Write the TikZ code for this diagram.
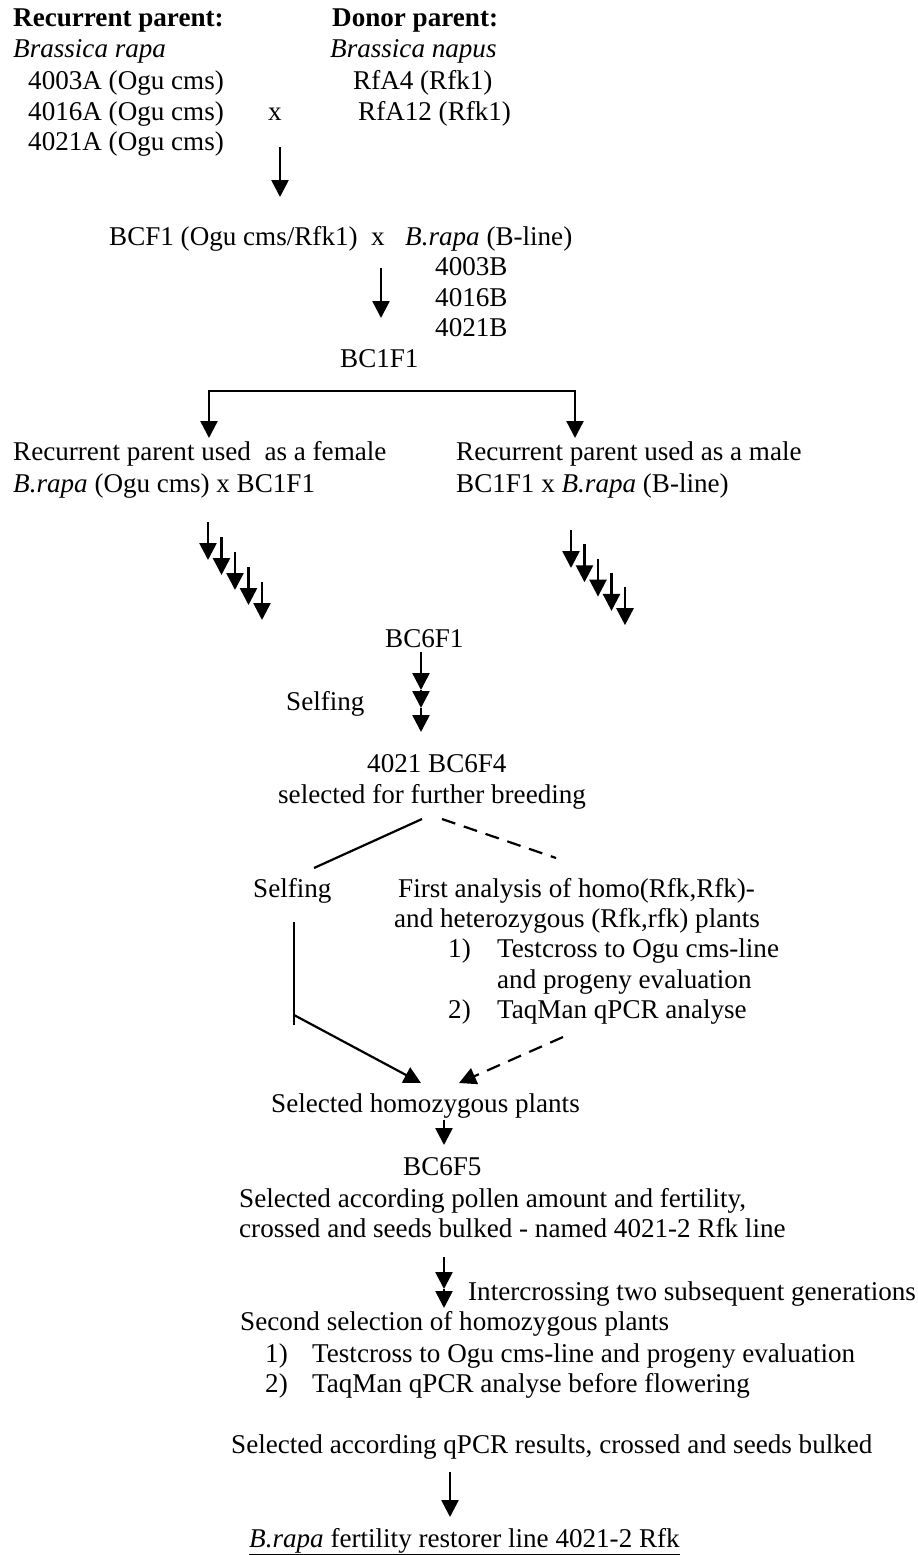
\documentclass[tikz,border=0pt]{standalone}
\usepackage{fontspec}
\setmainfont{Liberation Serif}
\usetikzlibrary{arrows.meta}
\begin{document}
\begin{tikzpicture}[x=1pt,y=-1pt,
    txt/.style={anchor=base west,inner sep=0pt,font=\fontsize{27.1}{31}\selectfont},
    arr/.style={line width=2.6pt,-{Triangle[length=17pt,width=17pt]}},
    link/.style={line width=2.2pt},
    dashlink/.style={line width=2.2pt,dash pattern=on 14pt off 9pt}]
        \useasboundingbox (0,0) rectangle (918,1555);
        %% Parents
        \node[txt] (rec) at (13,27) {\textbf{Recurrent parent:}};
        \node[txt] (recsp) at (13,58) {\textit{Brassica rapa}};
        \foreach \y/\n in {89/4003A,120/4016A,150/4021A}
            \node[txt] (a\n) at (28,\y) {\n\ (Ogu cms)};
        \node[txt] (xa) at (268,120) {x};
        \node[txt] (don) at (332,27) {\textbf{Donor parent:}};
        \node[txt] (donsp) at (330,58) {\textit{Brassica napus}};
        \node[txt] (rfa4) at (353,89) {RfA4 (Rfk1)};
        \node[txt] (rfa12) at (358,120) {RfA12 (Rfk1)};
        \coordinate (p0) at (280,147);
        \coordinate (p1) at (280,197);
        \draw[arr] (p0) -- (p1);
        %% BCF1
        \node[txt] (bcf1) at (109,245) {BCF1 (Ogu cms/Rfk1)};
        \node[txt] (xb) at (371,245) {x};
        \node[txt] (bline) at (405,245) {\textit{B.rapa} (B-line)};
        \foreach \y/\n in {275/4003B,306/4016B,336/4021B}
            \node[txt] (b\n) at (435,\y) {\n};
        \coordinate (q0) at (381,268);
        \coordinate (q1) at (381,318);
        \draw[arr] (q0) -- (q1);
        \node[txt] (bc1f1) at (340,367) {BC1F1};
        %% split
        \coordinate (bl) at (209,391);
        \coordinate (br) at (575,391);
        \coordinate (ft) at (209,438);
        \coordinate (mt) at (575,438);
        \draw[line width=2.4pt,{Triangle[length=17pt,width=17pt]}-{Triangle[length=17pt,width=17pt]}]
            (ft) -- (bl) -- (br) -- (mt);
        \node[txt] (fem) at (13,460) {Recurrent parent used\ \ as a female};
        \node[txt] (fem2) at (13,492) {\textit{B.rapa} (Ogu cms) x BC1F1};
        \node[txt] (mal) at (456,460) {Recurrent parent used as a male};
        \node[txt] (mal2) at (456,492) {BC1F1 x \textit{B.rapa} (B-line)};
        %% backcross generations
        \foreach \i in {0,...,4} {
            \coordinate (lt\i) at (208+13.5*\i,522+15*\i);
            \coordinate (lb\i) at (208+13.5*\i,560+15*\i);
            \draw[arr] (lt\i) -- (lb\i);
            \coordinate (rt\i) at (571+13.5*\i,530+14.3*\i);
            \coordinate (rb\i) at (571+13.5*\i,568+14.3*\i);
            \draw[arr] (rt\i) -- (rb\i);
        }
        %% BC6F1 and selfing
        \node[txt] (bc6f1) at (385,647) {BC6F1};
        \foreach \a/\b/\y in {0/1/690,1/2/708,2/3/732}
            \coordinate (s\b) at (421,\y);
        \coordinate (s0) at (421,652);
        \foreach \a/\b in {0/1,1/2,2/3}
            \draw[arr] (s\a) -- (s\b);
        \node[txt] (self1) at (286,710) {Selfing};
        \node[txt] (bc6f4) at (367,772) {4021 BC6F4};
        \node[txt] (furth) at (278,803) {selected for further breeding};
        %% two ways
        \coordinate (u0) at (422,819);
        \coordinate (u1) at (314,868);
        \coordinate (v0) at (442,819);
        \coordinate (v1) at (556,858);
        \draw[link] (u0) -- (u1);
        \draw[dashlink] (v0) -- (v1);
        \node[txt] (self2) at (253,897) {Selfing};
        \node[txt] (first) at (398,897) {First analysis of homo(Rfk,Rfk)-};
        \node[txt] (hetero) at (394,927) {and heterozygous (Rfk,rfk) plants};
        \node[txt] (n1) at (448,957) {1)};
        \node[txt] (test1) at (497,957) {Testcross to Ogu cms-line};
        \node[txt] (prog1) at (497,988) {and progeny evaluation};
        \node[txt] (n2) at (448,1018) {2)};
        \node[txt] (taq1) at (497,1018) {TaqMan qPCR analyse};
        \coordinate (w0) at (294,922);
        \coordinate (w1) at (294,1025);
        \coordinate (w2) at (294,1015);
        \coordinate (w3) at (421,1083);
        \coordinate (d0) at (563,1037);
        \coordinate (d1) at (459,1083);
        \draw[link] (w0) -- (w1);
        \draw[link,-{Triangle[length=17pt,width=17pt]}] (w2) -- (w3);
        \draw[dashlink,-{Triangle[length=17pt,width=17pt]}] (d0) -- (d1);
        %% homozygous plants
        \node[txt] (homo) at (271,1112) {Selected homozygous plants};
        \coordinate (h0) at (444,1120);
        \coordinate (h1) at (444,1145);
        \draw[arr] (h0) -- (h1);
        \node[txt] (bc6f5) at (403,1175) {BC6F5};
        \node[txt] (poll) at (239,1207) {Selected according pollen amount and fertility,};
        \node[txt] (bulk1) at (239,1237) {crossed and seeds bulked - named 4021-2 Rfk line};
        \coordinate (i0) at (444,1257);
        \coordinate (i1) at (444,1289);
        \coordinate (i2) at (444,1308);
        \draw[arr] (i0) -- (i1);
        \draw[arr] (i1) -- (i2);
        \node[txt] (inter) at (468,1300) {Intercrossing two subsequent generations};
        %% second selection
        \node[txt] (second) at (240,1330) {Second selection of homozygous plants};
        \node[txt] (m1) at (265,1362) {1)};
        \node[txt] (test2) at (312,1362) {Testcross to Ogu cms-line and progeny evaluation};
        \node[txt] (m2) at (265,1392) {2)};
        \node[txt] (taq2) at (312,1392) {TaqMan qPCR analyse before flowering};
        \node[txt] (bulk2) at (231,1453) {Selected according qPCR results, crossed and seeds bulked};
        \coordinate (e0) at (450,1472);
        \coordinate (e1) at (450,1517);
        \draw[arr] (e0) -- (e1);
        \node[txt] (final) at (249,1547) {\underline{\textit{B.rapa} fertility restorer line 4021-2 Rfk}};
    \end{tikzpicture}
\end{document}
